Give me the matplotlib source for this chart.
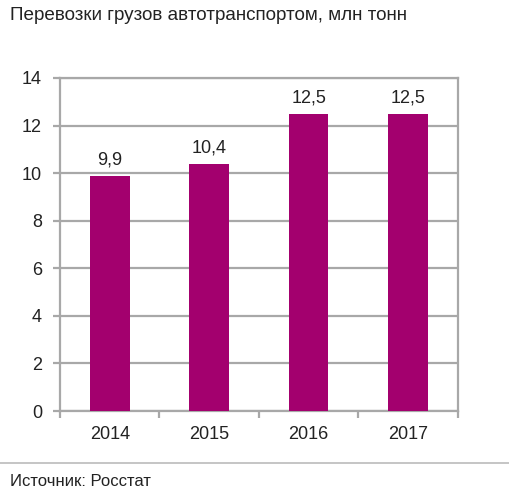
import matplotlib
matplotlib.use("Agg")
import matplotlib.pyplot as plt

plt.rcParams['font.family'] = ['Liberation Sans Narrow', 'Liberation Sans', 'DejaVu Sans']

# data
years = ['2014', '2015', '2016', '2017']
values = [9.9, 10.4, 12.5, 12.5]
y_ticks = [0, 2, 4, 6, 8, 10, 12, 14]

title = "Перевозки грузов автотранспортом, млн тонн"
source = "Источник: Росстат"

bar_color = '#A3006E'
grid_color = '#A8A8A8'
text_color = '#222222'

fig = plt.figure(figsize=(5.1, 5.0), dpi=100)
ax = fig.add_axes([0.1176, 0.178, 0.780, 0.666])

x = list(range(len(years)))
bars = ax.bar(x, values, width=0.4, color=bar_color, zorder=3)

for xi, v in zip(x, values):
    ax.annotate(f"{v:.1f}".replace('.', ','), (xi, v), xytext=(0, 5),
                textcoords='offset points', ha='center', va='bottom',
                fontsize=13, color=text_color)

ax.set_xlim(-0.5, len(years) - 0.5)
ax.set_ylim(0, 14)
ax.set_yticks(y_ticks)
ax.set_yticklabels([str(t) for t in y_ticks])
ax.yaxis.grid(True, color=grid_color, linewidth=1.6, zorder=0)

# x ticks on category boundaries, labels at centres
ax.set_xticks([i - 0.5 for i in range(len(years) + 1)])
ax.set_xticklabels([])
ax.set_xticks(x, minor=True)
ax.set_xticklabels(years, minor=True)
ax.tick_params(axis='x', which='minor', length=0, pad=11, labelsize=13, labelcolor=text_color)
ax.tick_params(axis='x', which='major', length=5, width=1.6, color=grid_color, direction='out')
ax.tick_params(axis='y', length=5, width=1.6, color=grid_color, labelsize=13,
               labelcolor=text_color, pad=8)

for s in ax.spines.values():
    s.set_color(grid_color)
    s.set_linewidth(1.6)

fig.text(0.02, 0.97, title, fontsize=13.6, color=text_color, ha='left', va='center')
fig.add_artist(plt.Line2D([0, 1], [0.074, 0.074], color='#BBBBBB', linewidth=1.2,
                          transform=fig.transFigure))
fig.text(0.02, 0.038, source, fontsize=12, color=text_color, ha='left', va='center')

fig.savefig('out.png', dpi=100)
